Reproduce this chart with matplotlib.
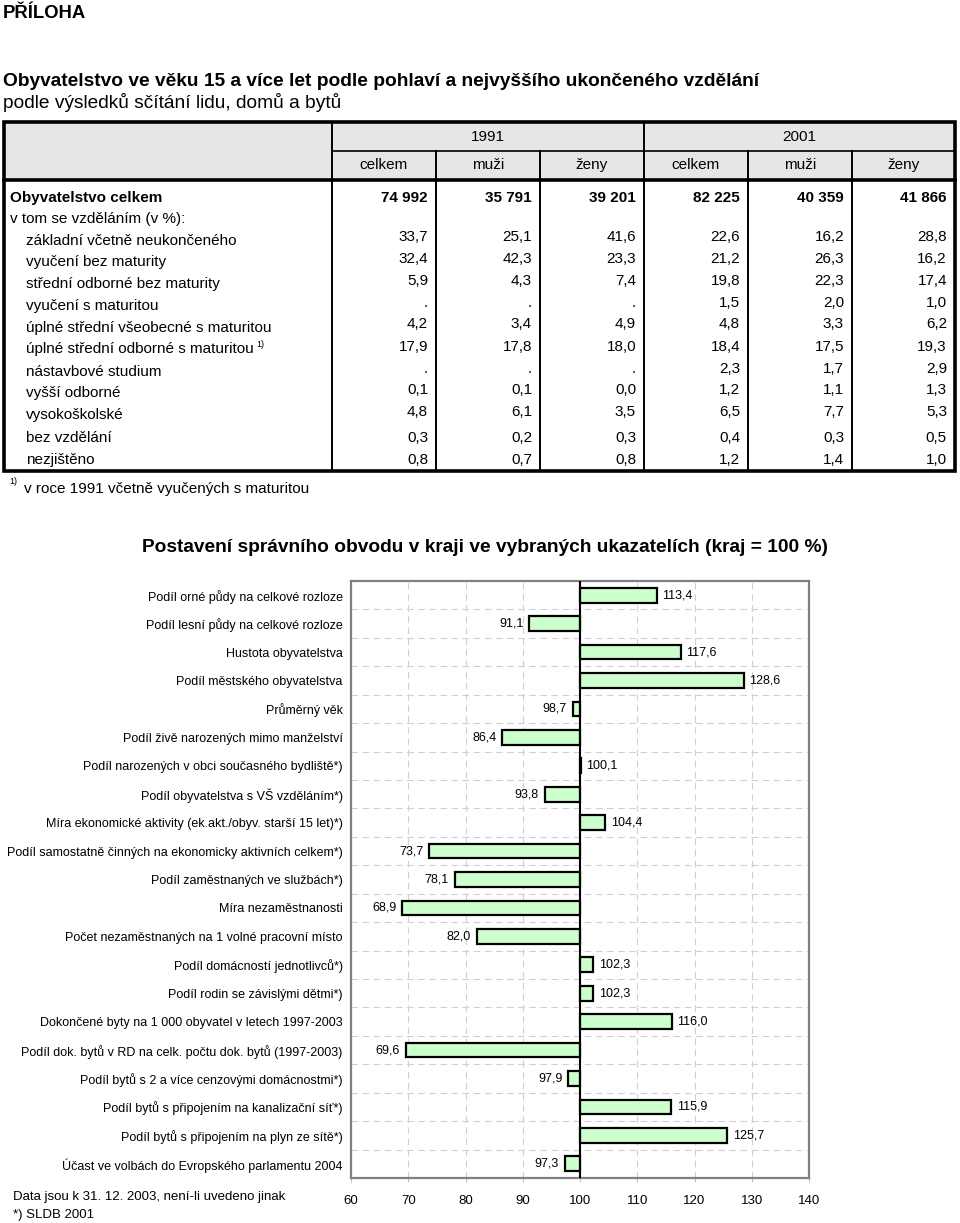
import matplotlib
matplotlib.use("Agg")
import matplotlib.pyplot as plt
from matplotlib.lines import Line2D
from matplotlib.patches import Rectangle

plt.rcParams['font.family'] = ['Liberation Sans', 'DejaVu Sans']

# --- table data ---
row_labels = ["Obyvatelstvo celkem", "v tom se vzděláním (v %):",
              "základní včetně neukončeného", "vyučení bez maturity",
              "střední odborné bez maturity", "vyučení s maturitou",
              "úplné střední všeobecné s maturitou",
              "úplné střední odborné s maturitou", "nástavbové studium",
              "vyšší odborné", "vysokoškolské", "bez vzdělání", "nezjištěno"]
years = ["1991", "2001"]
sub_cols = ["celkem", "muži", "ženy"]
celkem_1991 = ["74 992", "", "33,7", "32,4", "5,9", ".", "4,2", "17,9", ".", "0,1", "4,8", "0,3", "0,8"]
muzi_1991 = ["35 791", "", "25,1", "42,3", "4,3", ".", "3,4", "17,8", ".", "0,1", "6,1", "0,2", "0,7"]
zeny_1991 = ["39 201", "", "41,6", "23,3", "7,4", ".", "4,9", "18,0", ".", "0,0", "3,5", "0,3", "0,8"]
celkem_2001 = ["82 225", "", "22,6", "21,2", "19,8", "1,5", "4,8", "18,4", "2,3", "1,2", "6,5", "0,4", "1,2"]
muzi_2001 = ["40 359", "", "16,2", "26,3", "22,3", "2,0", "3,3", "17,5", "1,7", "1,1", "7,7", "0,3", "1,4"]
zeny_2001 = ["41 866", "", "28,8", "16,2", "17,4", "1,0", "6,2", "19,3", "2,9", "1,3", "5,3", "0,5", "1,0"]
table_cols = [celkem_1991, muzi_1991, zeny_1991, celkem_2001, muzi_2001, zeny_2001]

# --- bar chart data ---
indicators = [
    "Podíl orné půdy na celkové rozloze",
    "Podíl lesní půdy na celkové rozloze",
    "Hustota obyvatelstva",
    "Podíl městského obyvatelstva",
    "Průměrný věk",
    "Podíl živě narozených mimo manželství",
    "Podíl narozených v obci současného bydliště*)",
    "Podíl obyvatelstva s VŠ vzděláním*)",
    "Míra ekonomické aktivity (ek.akt./obyv. starší 15 let)*)",
    "Podíl samostatně činných na ekonomicky aktivních celkem*)",
    "Podíl zaměstnaných ve službách*)",
    "Míra nezaměstnanosti",
    "Počet nezaměstnaných na 1 volné pracovní místo",
    "Podíl domácností jednotlivců*)",
    "Podíl rodin se závislými dětmi*)",
    "Dokončené byty na 1 000 obyvatel v letech 1997-2003",
    "Podíl dok. bytů v RD na celk. počtu dok. bytů (1997-2003)",
    "Podíl bytů s 2 a více cenzovými domácnostmi*)",
    "Podíl bytů s připojením na kanalizační síť*)",
    "Podíl bytů s připojením na plyn ze sítě*)",
    "Účast ve volbách do Evropského parlamentu 2004",
]
index_values = [113.4, 91.1, 117.6, 128.6, 98.7, 86.4, 100.1, 93.8, 104.4, 73.7,
                78.1, 68.9, 82.0, 102.3, 102.3, 116.0, 69.6, 97.9, 115.9, 125.7, 97.3]
x_ticks = [60, 70, 80, 90, 100, 110, 120, 130, 140]

W, H = 960, 1223
fig = plt.figure(figsize=(W / 100, H / 100), dpi=100)


def fx(px):
    return px / W


def fy(py):
    return 1 - py / H


def txt(x, y, s, **kw):
    fig.text(fx(x), fy(y), s, va='center', **kw)


def hline(y, x0, x1, lw=1, c='black'):
    fig.add_artist(Line2D([fx(x0), fx(x1)], [fy(y), fy(y)], lw=lw, color=c))


def vline(x, y0, y1, lw=1, c='black'):
    fig.add_artist(Line2D([fx(x), fx(x)], [fy(y0), fy(y1)], lw=lw, color=c))


# headings
txt(3, 14, "PŘÍLOHA", fontsize=13.3, fontweight='bold')
txt(3, 81, "Obyvatelstvo ve věku 15 a více let podle pohlaví a nejvyššího ukončeného vzdělání",
    fontsize=13.8, fontweight='bold')
txt(3, 102, "podle výsledků sčítání lidu, domů a bytů", fontsize=13.8)

# table geometry (pixels)
col_x = [332, 436, 540, 644, 748, 852, 955]
t_left, t_top, t_mid, t_head, t_bot = 4, 122, 151, 180, 471

fig.add_artist(Rectangle((fx(t_left), fy(t_head)), fx(955 - t_left), fy(t_top) - fy(t_head),
                         facecolor='#e6e6e6', edgecolor='none'))
hline(t_mid, col_x[0], col_x[-1], lw=1.2)
hline(t_head, t_left, col_x[-1], lw=2.6)
for i, x in enumerate(col_x[:-1]):
    if i in (0, 3):
        vline(x, t_top, t_bot, lw=1.4)
    else:
        vline(x, t_mid, t_bot, lw=1.4)
fig.add_artist(Rectangle((fx(t_left), fy(t_bot)), fx(955 - t_left), fy(t_top) - fy(t_bot),
                         facecolor='none', edgecolor='black', lw=2.6))

for k, yr in enumerate(years):
    txt((col_x[3 * k] + col_x[3 * k + 3]) / 2, 137, yr, fontsize=11, ha='center')
for j in range(6):
    txt((col_x[j] + col_x[j + 1]) / 2, 165, sub_cols[j % 3], fontsize=11, ha='center')

label_y = [198, 219, 241, 262, 284, 306, 328, 349, 372, 393, 415, 438, 460]
value_y = [198, 219, 237, 259, 281, 303, 324, 347, 369, 390, 412, 438, 460]
for i, lab in enumerate(row_labels):
    bold = i == 0
    indent = 10 if i < 2 else 26
    txt(indent, label_y[i], lab, fontsize=11, fontweight='bold' if bold else 'normal')
    for j, col in enumerate(table_cols):
        txt(col_x[j + 1] - 8, value_y[i], col[i], fontsize=11, ha='right',
            fontweight='bold' if bold else 'normal')
txt(256, 345, "1)", fontsize=6.5)
txt(9, 482, "1)", fontsize=6.5)
txt(24, 489, "v roce 1991 včetně vyučených s maturitou", fontsize=11)

# chart
fig.text(fx(485), fy(548), "Postavení správního obvodu v kraji ve vybraných ukazatelích (kraj = 100 %)",
         ha='center', va='center', fontsize=13.8, fontweight='bold')

ax = fig.add_axes([fx(351), fy(1178), fx(809 - 351), fy(581) - fy(1178)])
n = len(indicators)
pos = list(range(n))
widths = [v - 100 for v in index_values]
ax.barh(pos, widths, left=100, height=0.52, color='#ccffcc', edgecolor='black', lw=1.6, zorder=3)
ax.axvline(100, color='black', lw=1.5, zorder=4)
for p, v in zip(pos, index_values):
    lab = f"{v:.1f}".replace('.', ',')
    if v >= 100:
        ax.text(v + 1.0, p, lab, ha='left', va='center', fontsize=9)
    else:
        ax.text(v - 1.0, p, lab, ha='right', va='center', fontsize=9)

ax.set_xlim(60, 140)
ax.set_ylim(n - 0.5, -0.5)
ax.set_xticks(x_ticks)
ax.set_xticklabels([str(t) for t in x_ticks], fontsize=9.5)
ax.set_yticks(pos)
ax.set_yticklabels(indicators, fontsize=9)
ax.set_yticks([p + 0.5 for p in pos[:-1]], minor=True)
ax.tick_params(axis='y', which='both', length=0, pad=6)
ax.tick_params(axis='x', length=3, color='#c0c0c0', pad=9)
ax.grid(axis='x', which='major', color='#d0d0d0', ls=(0, (6, 4)), lw=0.8, zorder=0)
ax.grid(axis='y', which='minor', color='#d0d0d0', ls=(0, (6, 4)), lw=0.8, zorder=0)
for s in ax.spines.values():
    s.set_color('#808080')
    s.set_linewidth(1.6)

txt(13, 1197, "Data jsou k 31. 12. 2003, není-li uvedeno jinak", fontsize=9.5)
txt(13, 1215, "*) SLDB 2001", fontsize=9.5)

fig.savefig("out.png", dpi=100)
